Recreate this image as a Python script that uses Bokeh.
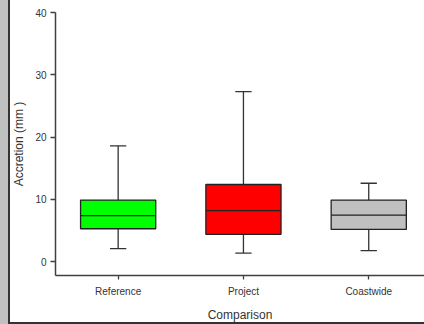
from bokeh.plotting import figure
from bokeh.models import FixedTicker, ColumnDataSource, Range1d
from bokeh.embed import file_html
from bokeh.resources import INLINE

categories = ["Reference", "Project", "Coastwide"]
lower_whisker = [2.1, 1.4, 1.8]
q1 = [5.3, 4.4, 5.2]
median = [7.4, 8.2, 7.5]
q3 = [9.9, 12.4, 9.9]
upper_whisker = [18.6, 27.3, 12.6]
colors = ["#00FF00", "#FF0000", "#C0C0C0"]
y_ticks = [0, 10, 20, 30, 40]

xpos = [i + 1 for i in range(len(categories))]
box_w = 0.6
cap_w = 0.13

src = ColumnDataSource(dict(
    x=xpos, lo=lower_whisker, q1=q1, med=median, q3=q3, hi=upper_whisker,
    color=colors,
    cl=[x - cap_w / 2 for x in xpos], cr=[x + cap_w / 2 for x in xpos],
    bl=[x - box_w / 2 for x in xpos], br=[x + box_w / 2 for x in xpos],
))

p = figure(width=424, height=324, output_backend="svg", toolbar_location=None,
           x_range=Range1d(0.5, 3.445), y_range=Range1d(-2.2, 40),
           min_border_left=55, min_border_top=12, min_border_right=0,
           min_border_bottom=48)
p.outline_line_color = None
p.grid.visible = False
p.background_fill_color = "white"
p.border_fill_color = None
p.styles = {"box-shadow": "inset 8px 0 0 #c0c0c0, inset 10px 0 0 #333333, inset 0 -2px 0 #333333",
            "background-color": "white"}

# whiskers
p.segment(x0="x", y0="q3", x1="x", y1="hi", source=src, line_color="#333333", line_width=1.3)
p.segment(x0="x", y0="q1", x1="x", y1="lo", source=src, line_color="#333333", line_width=1.3)
p.segment(x0="cl", y0="hi", x1="cr", y1="hi", source=src, line_color="#333333", line_width=1.3)
p.segment(x0="cl", y0="lo", x1="cr", y1="lo", source=src, line_color="#333333", line_width=1.3)
# boxes
p.vbar(x="x", width=box_w, bottom="q1", top="q3", source=src, fill_color="color",
       line_color="#222222", line_width=1.3)
p.segment(x0="bl", y0="med", x1="br", y1="med", source=src, line_color="#222222", line_width=1.3)

font = "Liberation Sans"
for ax in (p.xaxis[0], p.yaxis[0]):
    ax.axis_line_color = "#404040"
    ax.axis_line_width = 1.5
    ax.major_tick_line_color = "#404040"
    ax.major_tick_line_width = 1.3
    ax.major_tick_out = 5
    ax.major_tick_in = 0
    ax.minor_tick_line_color = None
    ax.major_label_text_font = font
    ax.major_label_text_font_size = "10px"
    ax.major_label_text_color = "#333333"
    ax.axis_label_text_font = font
    ax.axis_label_text_font_size = "12px"
    ax.axis_label_text_font_style = "normal"
    ax.axis_label_text_color = "#333333"

p.xaxis.ticker = FixedTicker(ticks=xpos)
p.xaxis.major_label_overrides = {x: c for x, c in zip(xpos, categories)}
p.xaxis.major_tick_out = 4
p.xaxis.major_label_standoff = 6
p.xaxis.axis_label = "Comparison"
p.xaxis.axis_label_standoff = 8

p.yaxis.ticker = FixedTicker(ticks=y_ticks)
p.yaxis.major_label_standoff = 4
p.yaxis.axis_label = "Accretion (mm )"
p.yaxis.axis_label_standoff = 6

open("out.html", "w").write(file_html(p, INLINE))
